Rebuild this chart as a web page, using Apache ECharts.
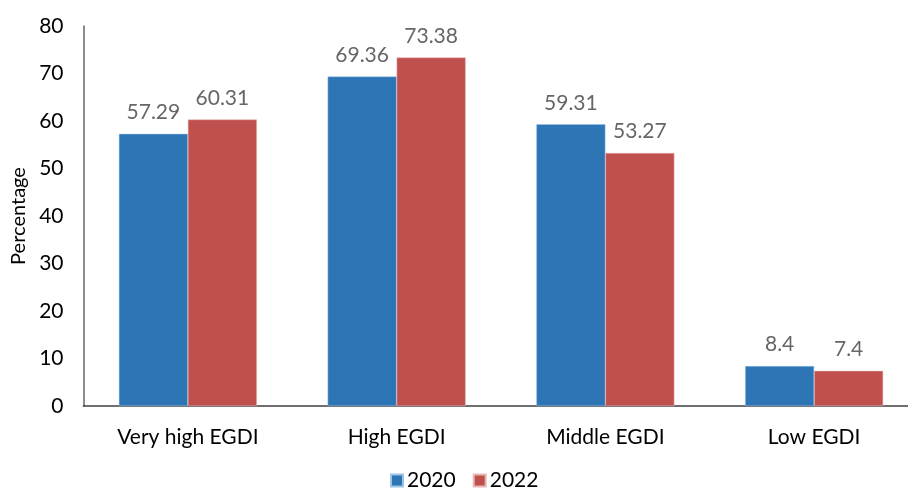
<!DOCTYPE html>
<html><head><meta charset="utf-8">
<script src="https://cdn.jsdelivr.net/npm/echarts@6/dist/echarts.min.js"></script>
<style>html,body{margin:0;padding:0;background:#fff}#c{width:908px;height:489px}</style>
</head><body><div id="c"></div>
<script>
const categories = ['Very high EGDI', 'High EGDI', 'Middle EGDI', 'Low EGDI'];
const values2020 = [57.29, 69.36, 59.31, 8.4];
const values2022 = [60.31, 73.38, 53.27, 7.4];
const seriesNames = ['2020', '2022'];

const chart = echarts.init(document.getElementById('c'));
const labelStyle = {show: true, position: 'top', distance: 11, color: '#666666', fontFamily: 'Lato', fontSize: 21};
chart.setOption({
  animation: false,
  textStyle: {fontFamily: 'Lato'},
  grid: {left: 83.5, width: 835, top: 26, height: 380, outerBoundsMode: 'none', containLabel: false},
  legend: {
    top: 465, left: 385, itemWidth: 12, itemHeight: 12, itemGap: 17,
    icon: 'rect',
    textStyle: {fontFamily: 'Lato', fontSize: 21, color: '#000', padding: [0, 0, 0, -1]},
    data: seriesNames
  },
  xAxis: {
    type: 'category', data: categories,
    axisLine: {lineStyle: {color: '#404040', width: 1.5}},
    axisTick: {show: false},
    axisLabel: {color: '#000', fontFamily: 'Lato', fontSize: 21, margin: 21}
  },
  yAxis: {
    type: 'value', min: 0, max: 80, interval: 10,
    name: 'Percentage', nameLocation: 'middle', nameGap: 55,
    nameTextStyle: {color: '#000', fontFamily: 'Lato', fontSize: 20},
    axisLine: {show: true, lineStyle: {color: '#666666', width: 1.5}},
    axisTick: {show: false},
    splitLine: {show: false},
    axisLabel: {color: '#000', fontFamily: 'Lato', fontSize: 21, margin: 20}
  },
  series: [
    {name: seriesNames[0], type: 'bar', data: values2020, barWidth: 69, barGap: '0%',
     itemStyle: {color: '#2E75B6', borderColor: '#9DC3E6', borderWidth: 0.5}, label: labelStyle},
    {name: seriesNames[1], type: 'bar', data: values2022, barWidth: 69,
     itemStyle: {color: '#C0504D', borderColor: '#E6B9B8', borderWidth: 0.5}, label: labelStyle}
  ]
});
</script></body></html>
